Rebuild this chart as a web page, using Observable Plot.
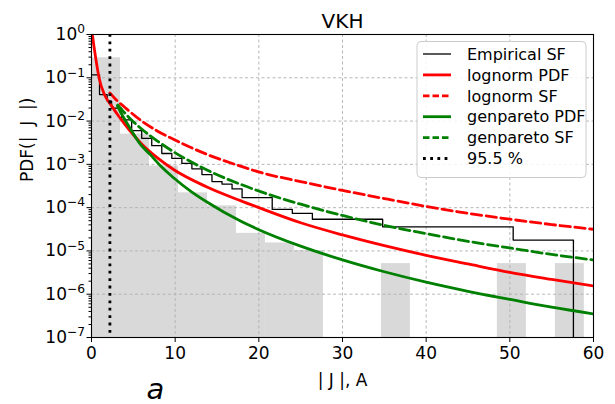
<!DOCTYPE html>
<html><head><meta charset="utf-8">
<script src="https://cdn.jsdelivr.net/npm/d3@7"></script>
<script src="https://cdn.jsdelivr.net/npm/@observablehq/plot@0.6"></script>
<style>
html,body{margin:0;padding:0;background:#fff;}
#chart{width:615px;height:404px;}
</style></head><body><div id="chart"></div>
<script>
// ---- data ----
const binEdges = [0,3.465,6.93,10.395,13.86,17.325,20.79,24.255,27.72,31.185,34.65,38.115,41.58,45.045,48.51,51.975,55.44,58.905];
const binDensity = [0.29,0.005,0.00092,0.00022,0.00011,0.0000255,0.0000153,0.0000102,0,0,0.0000051,0,0,0,0.0000051,0,0.0000051];

const empX = [0,0.96,1.87,2.4,3.6,4.8,6.0,7.2,8.4,9.6,10.8,12.0,13.2,14.4,15.6,16.8,18.0,21.6,24.0,26.4,34.8,50.4,57.6];
const empY = [0.117,0.041,0.029,0.02,0.0107,0.006,0.004,0.0027,0.00178,0.00138,0.00105,0.00079,0.00058,0.0004,0.00035,0.00027,0.00017,0.000091,0.000074,0.000054,0.000036,0.0000178,0.0000001];

const lnPdfX = [0.06,0.1,0.5,0.9,1.6,2.3,3.3,4.5,5.85,8,9.8,13.8,17.8,20,25,30,35,40,45,50,55,60];
const lnPdfY = [1.15,1,0.288,0.1,0.0389,0.024,0.0126,0.0063,0.00316,0.00135,0.00076,0.0003,0.000145,0.0001,0.0000447,0.0000234,0.0000132,0.0000079,0.000005,0.0000032,0.0000022,0.00000155];

const lnSfX = [2.2,3.0,3.9,5.85,7.8,9.8,13.8,17.8,20.2,25,30,35,40,45,50,55,60];
const lnSfY = [0.0447,0.0302,0.0214,0.0105,0.006,0.0038,0.0017,0.00091,0.00065,0.0004,0.00025,0.000162,0.000107,0.000074,0.000054,0.0000407,0.0000316];

const gpPdfX = [3.1,3.5,4.46,5.85,7,8.24,9.8,12,13.8,17.8,20,25,30,35,40,45,50,55,60];
const gpPdfY = [0.0224,0.0158,0.0076,0.00288,0.0017,0.00093,0.00049,0.000229,0.000135,0.000049,0.000031,0.0000129,0.0000062,0.0000033,0.0000019,0.00000117,0.00000076,0.0000005,0.00000035];

const gpSfX = [3.15,4.5,5.85,7.8,9.8,12,13.8,17.8,20.2,25,30,35,40,45,50,55,60];
const gpSfY = [0.0234,0.012,0.0069,0.00355,0.00195,0.00112,0.00074,0.000347,0.000234,0.00012,0.000066,0.000039,0.0000251,0.0000166,0.0000117,0.0000083,0.0000062];

const quantileX = [2.2];

const xTicks = [0,10,20,30,40,50,60];
const yTicks = [1e-7,1e-6,1e-5,1e-4,1e-3,1e-2,1e-1,1];
const legendLabels = ["Empirical SF","lognorm PDF","lognorm SF","genpareto PDF","genpareto SF","95.5 %"];
const titleText = "VKH";
const xLabel = "| J |, A";
const yLabel = "PDF(|\u00a0\u00a0J\u00a0\u00a0|)";
const panelLabel = "a";

// ---- derived tables ----
const bins = binDensity.map((d,i)=>({x1:binEdges[i], x2:binEdges[i+1], d})).filter(b=>b.d>0);
const minorTicks = [];
for (let e=-7;e<0;e++) for (let m=2;m<10;m++) minorTicks.push(m*Math.pow(10,e));

const RED = "#ff0000", GREEN = "#008000";
const gridStyle = {stroke:"#b0b0b0", strokeOpacity:1, strokeWidth:0.9, strokeDasharray:"3,2.5"};

const svg = Plot.plot({
  width: 615, height: 404,
  marginLeft: 91, marginRight: 22, marginTop: 34, marginBottom: 67,
  style: {fontFamily: "DejaVu Sans", fontSize: "17px", background: "white", color: "black", overflow: "visible"},
  x: {domain: [0,60]},
  y: {type: "log", domain: [1e-7, 1]},
  marks: [
    Plot.rect(bins, {x1:"x1", x2:"x2", y1: 1e-7, y2:"d", fill:"#d9d9d9"}),
    Plot.gridX(xTicks, gridStyle),
    Plot.gridY(yTicks, gridStyle),
    Plot.line(empY, {x: empX, y: empY, curve:"step-after", stroke:"black", strokeWidth:1.3, clip:true}),
    Plot.line(lnPdfY, {x: lnPdfX, y: lnPdfY, curve:"monotone-x", stroke:RED, strokeWidth:2.8, clip:true}),
    Plot.line(lnSfY, {x: lnSfX, y: lnSfY, curve:"monotone-x", stroke:RED, strokeWidth:2.8, strokeDasharray:"10.4,4.5", clip:true}),
    Plot.line(gpPdfY, {x: gpPdfX, y: gpPdfY, curve:"monotone-x", stroke:GREEN, strokeWidth:2.8, clip:true}),
    Plot.line(gpSfY, {x: gpSfX, y: gpSfY, curve:"monotone-x", stroke:GREEN, strokeWidth:2.8, strokeDasharray:"10.4,4.5", clip:true}),
    Plot.ruleX(quantileX, {stroke:"black", strokeWidth:2.8, strokeDasharray:"2.8,4.6"}),
    Plot.frame({stroke:"black", strokeWidth:1.1}),
    Plot.axisX(xTicks, {tickSize:5, tickPadding:4, fontSize:17, label:null}),
    Plot.axisY(yTicks, {tickSize:4.5, tickPadding:2, fontSize:17, label:null, tickFormat: d => "E" + Math.round(Math.log10(d))}),
    Plot.axisY(minorTicks, {tickSize:2.5, tickFormat: () => "", label:null}),
    Plot.text([titleText], {frameAnchor:"top", dy:-7, lineAnchor:"bottom", fontSize:20}),
    Plot.text([xLabel], {frameAnchor:"bottom", dy:48, lineAnchor:"bottom", fontSize:17}),
    Plot.text([yLabel], {frameAnchor:"left", dx:-59, dy:-4, rotate:-90, lineAnchor:"bottom", fontSize:17}),
    Plot.text([panelLabel], {frameAnchor:"bottom-left", dx:55, dy:61, textAnchor:"start", lineAnchor:"bottom", fontSize:29, fontStyle:"italic"})
  ]
});

// superscript exponents on the log axis labels
svg.querySelectorAll("text").forEach(t => {
  const s = t.textContent;
  if (/^E-?\d+$/.test(s)) {
    const exp = s.slice(1).replace("-", "\u2212");
    t.textContent = "10";
    const ts = document.createElementNS("http://www.w3.org/2000/svg","tspan");
    ts.setAttribute("dy","-0.55em");
    ts.setAttribute("font-size","0.72em");
    ts.textContent = exp;
    t.appendChild(ts);
  }
});

// legend
const lg = d3.select(svg).append("g").attr("font-family","DejaVu Sans").attr("font-size",16).attr("text-anchor","start");
lg.append("rect").attr("x",417).attr("y",41.5).attr("width",169).attr("height",136).attr("rx",4)
  .attr("fill","white").attr("fill-opacity",0.85).attr("stroke","#cccccc").attr("stroke-width",1);
const styles = [
  {stroke:"black", w:1.3, dash:null},
  {stroke:RED, w:2.8, dash:null},
  {stroke:RED, w:2.8, dash:"6.5,3"},
  {stroke:GREEN, w:2.8, dash:null},
  {stroke:GREEN, w:2.8, dash:"6.5,3"},
  {stroke:"black", w:2.8, dash:"2.8,4.4"}
];
legendLabels.forEach((lab,i) => {
  const y = 54 + i*20.9;
  lg.append("line").attr("x1",423).attr("x2",451).attr("y1",y).attr("y2",y)
    .attr("stroke",styles[i].stroke).attr("stroke-width",styles[i].w)
    .attr("stroke-dasharray",styles[i].dash);
  lg.append("text").attr("x",467).attr("y",y).attr("dy","0.36em").attr("text-anchor","start").attr("fill","black").text(lab);
});

document.getElementById("chart").appendChild(svg);
</script></body></html>
